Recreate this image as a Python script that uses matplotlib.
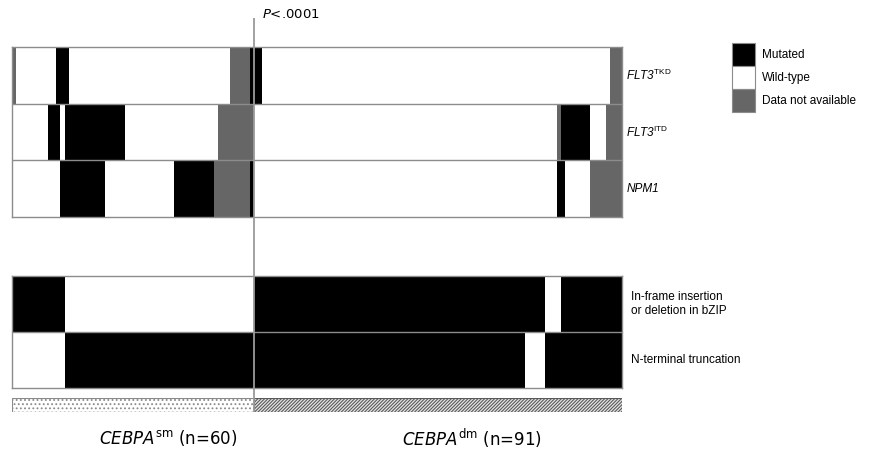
import numpy as np
import matplotlib
matplotlib.use("Agg")
import matplotlib.pyplot as plt
from matplotlib.colors import ListedColormap
from matplotlib.patches import Patch

# ---- data: run-length encoded status per patient (0 = wild-type, 1 = mutated, 2 = n/a)
n_sm = 60
n_dm = 91
top_genes = ["FLT3_TKD", "FLT3_ITD", "NPM1"]
flt3_tkd_runs = [(2, 1), (0, 10), (1, 3), (0, 40), (2, 5), (1, 3), (0, 86), (2, 3)]
flt3_itd_runs = [(0, 9), (1, 3), (0, 1), (1, 15), (0, 23), (2, 9), (0, 75), (2, 1),
                 (1, 7), (0, 4), (2, 4)]
npm1_runs = [(0, 12), (1, 11), (0, 17), (1, 10), (2, 9), (1, 1), (0, 75), (1, 2),
             (0, 6), (2, 8)]
inframe_runs = [(1, 13), (0, 47), (1, 72), (0, 4), (1, 15)]
nterm_runs = [(0, 13), (1, 114), (0, 5), (1, 19)]

top_labels = [r"FLT3$^{\mathrm{TKD}}$", r"FLT3$^{\mathrm{ITD}}$", "NPM1"]
bottom_labels = ["In-frame insertion\nor deletion in bZIP", "N-terminal truncation"]
legend_labels = ["Mutated", "Wild-type", "Data not available"]
group_labels = [r"$\mathit{CEBPA}^{\mathrm{sm}}$ (n=60)", r"$\mathit{CEBPA}^{\mathrm{dm}}$ (n=91)"]
p_label = r"$\mathit{P}$<.0001"

def expand(runs):
    return np.concatenate([np.full(n, v) for v, n in runs])

W, H = 872, 451
fig = plt.figure(figsize=(W / 100, H / 100), dpi=100)
plt.rcParams["mathtext.fontset"] = "custom"
plt.rcParams["mathtext.it"] = "Liberation Sans:italic"
plt.rcParams["mathtext.rm"] = "Liberation Sans"

N = n_sm + n_dm
cmap = ListedColormap(["#ffffff", "#000000", "#666666"])
edge = "#8c8c8c"

def fig_rect(x0, y0, x1, y1):
    return [x0 / W, 1 - y1 / H, (x1 - x0) / W, (y1 - y0) / H]

X0, X1 = 12, 622

# ---- top panel
ax1 = fig.add_axes(fig_rect(X0, 47, X1, 217))
top = np.vstack([expand(flt3_tkd_runs), expand(flt3_itd_runs), expand(npm1_runs)])
ax1.pcolormesh(np.arange(N + 1), np.arange(top.shape[0] + 1), top, cmap=cmap,
               vmin=-0.5, vmax=2.5, shading="flat")
ax1.set_xlim(0, N)
ax1.set_ylim(top.shape[0], 0)
for yy in range(1, top.shape[0]):
    ax1.axhline(yy, color=edge, lw=1)
ax1.set_xticks([]); ax1.set_yticks([])
for s in ax1.spines.values():
    s.set_color(edge); s.set_linewidth(1)
tr1 = ax1.get_yaxis_transform()
for i, lab in enumerate(top_labels):
    ax1.text(1.007, i + 0.5, lab, transform=tr1, ha="left", va="center",
             fontsize=8.5, family="Liberation Sans", style="italic",
             math_fontfamily="custom")

# ---- bottom panel
ax2 = fig.add_axes(fig_rect(X0, 276, X1, 388))
bot = np.vstack([expand(inframe_runs), expand(nterm_runs)])
ax2.pcolormesh(np.arange(N + 1), np.arange(bot.shape[0] + 1), bot, cmap=cmap,
               vmin=-0.5, vmax=2.5, shading="flat")
ax2.set_xlim(0, N)
ax2.set_ylim(bot.shape[0], 0)
ax2.axhline(1, color=edge, lw=1)
ax2.set_xticks([]); ax2.set_yticks([])
for s in ax2.spines.values():
    s.set_color(edge); s.set_linewidth(1)
tr2 = ax2.get_yaxis_transform()
for i, lab in enumerate(bottom_labels):
    ax2.text(1.015, i + 0.5, lab, transform=tr2, ha="left", va="center",
             fontsize=8.5, family="Liberation Sans", linespacing=1.3)

# ---- group bar
plt.rcParams["hatch.linewidth"] = 0.8
ax3 = fig.add_axes(fig_rect(X0, 398, X1, 412))
ax3.barh(0, n_sm, left=0, height=1, facecolor="white", edgecolor="#8a8a8a",
         hatch="....", lw=0.8)
ax3.barh(0, n_dm, left=n_sm, height=1, facecolor="#e6e6e6", edgecolor="#5a5a5a",
         hatch="//////////", lw=0.8)
ax3.set_xlim(0, N); ax3.set_ylim(-0.5, 0.5)
ax3.axis("off")

# group labels
fig.text(168 / W, 1 - 438 / H, group_labels[0], ha="center", va="center",
         fontsize=12, family="DejaVu Sans", math_fontfamily="dejavusans")
fig.text(472 / W, 1 - 438 / H, group_labels[1], ha="center", va="center",
         fontsize=12, family="DejaVu Sans", math_fontfamily="dejavusans")

# ---- divider overlay
axo = fig.add_axes(fig_rect(X0, 18, X1, 412))
axo.set_xlim(0, N); axo.set_ylim(0, 1)
axo.axvline(n_sm, color="#9a9a9a", lw=1.3)
axo.axis("off")
axo.patch.set_alpha(0)
fig.text(262 / W, 1 - 14 / H, p_label, ha="left", va="center", fontsize=9.5,
         family="DejaVu Sans", math_fontfamily="dejavusans")

# ---- legend
handles = [Patch(facecolor=cmap(1), edgecolor=edge, lw=0.8),
           Patch(facecolor=cmap(0), edgecolor=edge, lw=0.8),
           Patch(facecolor=cmap(2), edgecolor=edge, lw=0.8)]
fig.legend(handles, legend_labels, loc="upper left",
           bbox_to_anchor=(732 / W, 1 - 43 / H), frameon=False,
           prop={"family": "Liberation Sans", "size": 8.5},
           handlelength=1.95, handleheight=2.62, labelspacing=0.0,
           handletextpad=0.6, borderpad=0, borderaxespad=0)

fig.savefig("out.png", dpi=100)
